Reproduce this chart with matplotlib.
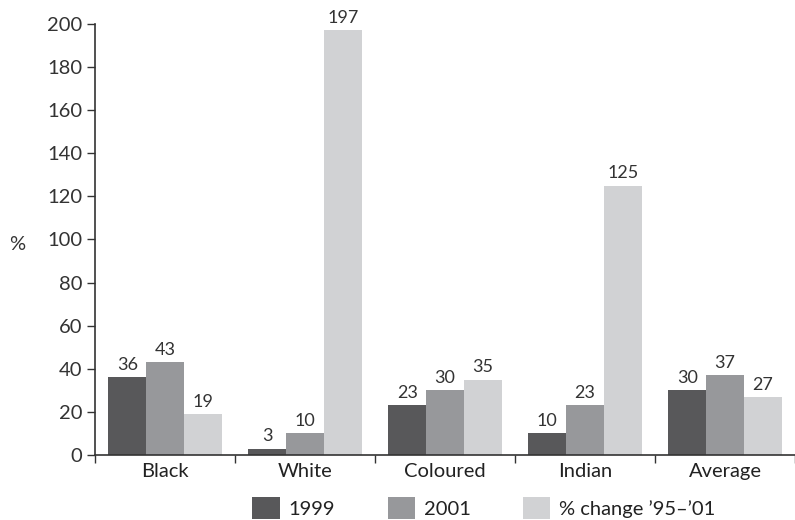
import matplotlib
matplotlib.use("Agg")
import matplotlib.pyplot as plt
import numpy as np

categories = ["Black", "White", "Coloured", "Indian", "Average"]
series_names = ["1999", "2001", "% change \u201995\u2013\u201901"]
v1999 = [36, 3, 23, 10, 30]
v2001 = [43, 10, 30, 23, 37]
vchange = [19, 197, 35, 125, 27]
yticks = [0, 20, 40, 60, 80, 100, 120, 140, 160, 180, 200]

colors = ["#58585a", "#97989b", "#d1d2d4"]
plt.rcParams['font.family'] = ['Lato', 'DejaVu Sans']

fig = plt.figure(figsize=(7.95, 5.2), dpi=100)
ax = fig.add_axes([95/795, 65/520, 700/795, 431/520])

x = np.arange(len(categories))
w = 0.27
handles = []
for i, (vals, c, name) in enumerate(zip([v1999, v2001, vchange], colors, series_names)):
    bars = ax.bar(x + (i - 1) * w, vals, width=w, color=c, label=name, zorder=2)
    ax.bar_label(bars, labels=[str(v) for v in vals], padding=3, fontsize=13, color="#333333")
    handles.append(bars)

ax.set_xlim(-0.5, 4.5)
ax.set_ylim(0, 200)
ax.set_yticks(yticks)
ax.set_yticklabels([str(t) for t in yticks], fontsize=14.5, color="#333333")
ax.set_xticks(x)
ax.set_xticklabels(categories, fontsize=14.5, color="#222222")
ax.tick_params(axis='x', which='major', length=0, pad=6)
ax.set_xticks(np.arange(-0.5, 5.0, 1.0), minor=True)
ax.tick_params(axis='x', which='minor', length=6, direction='out', color="#333333", width=1)
ax.tick_params(axis='y', length=6, direction='out', color="#333333", width=1, pad=3)

for s in ['top', 'right']:
    ax.spines[s].set_visible(False)
for s in ['left', 'bottom']:
    ax.spines[s].set_color("#333333")
    ax.spines[s].set_linewidth(1.2)

fig.text(9/795, 1 - 245/520, "%", fontsize=14.5, color="#333333", va='center', ha='left')

fig.legend(handles=handles, labels=series_names, loc='center', bbox_to_anchor=(484/795, 12/520),
           ncol=3, frameon=False, fontsize=14.5, handlelength=1.35, handleheight=1.35,
           columnspacing=2.6, handletextpad=0.45, labelcolor="#222222")

fig.savefig("out.png", dpi=100)
